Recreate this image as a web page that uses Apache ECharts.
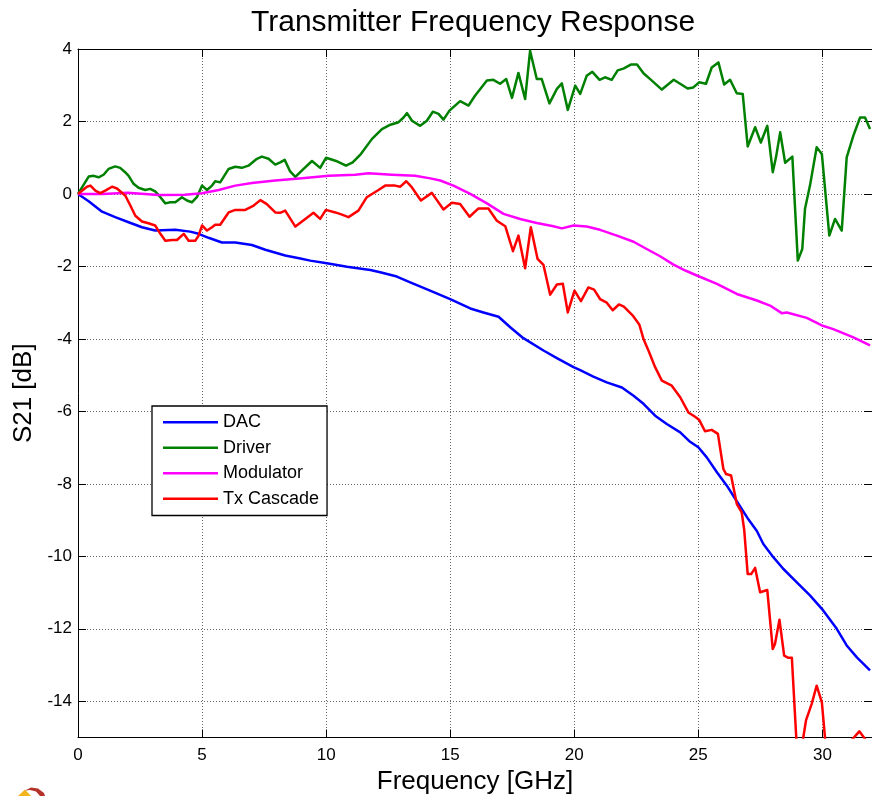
<!DOCTYPE html>
<html>
<head>
<meta charset="utf-8">
<title>Transmitter Frequency Response</title>
<script src="https://cdn.jsdelivr.net/npm/echarts@6/dist/echarts.min.js"></script>
<style>
  html, body { margin: 0; padding: 0; background: #fff; }
  #chart { width: 872px; height: 796px; }
</style>
</head>
<body>
<div id="chart"></div>
<script>
// Axis tick positions
const freqTicks = [0, 5, 10, 15, 20, 25, 30];
const s21Ticks = [-14, -12, -10, -8, -6, -4, -2, 0, 2, 4];

// DAC response (GHz, dB)
const dacFreq = [0, 0.43, 0.97, 1.5, 2.04, 2.58, 3.11, 3.92, 4.52, 4.86, 5.26, 5.8, 6.34, 7.01, 7.55, 8.35, 8.96, 9.36, 10.03, 10.84, 11.78, 12.18, 12.85, 13.39, 14.19, 15.0, 15.81, 16.34, 16.95, 17.42, 17.95, 18.76, 19.3, 19.97, 20.24, 20.77, 21.31, 21.92, 22.39, 22.79, 23.26, 23.73, 24.27, 24.67, 25.0, 25.34, 25.75, 26.15, 26.55, 26.98, 27.36, 27.62, 28.03, 28.43, 28.97, 29.5, 29.98, 30.58, 30.98, 31.39, 31.92];
const dacS21 = [0, -0.2, -0.49, -0.64, -0.78, -0.92, -1.01, -0.99, -1.04, -1.1, -1.21, -1.34, -1.34, -1.41, -1.54, -1.7, -1.78, -1.84, -1.91, -2.01, -2.1, -2.16, -2.28, -2.44, -2.67, -2.9, -3.16, -3.27, -3.39, -3.68, -3.98, -4.32, -4.53, -4.78, -4.86, -5.04, -5.2, -5.34, -5.57, -5.79, -6.12, -6.35, -6.58, -6.84, -6.99, -7.27, -7.68, -8.05, -8.48, -8.94, -9.3, -9.66, -10.03, -10.35, -10.72, -11.08, -11.45, -12.0, -12.46, -12.79, -13.15];

// Driver response (GHz, dB)
const driverFreq = [0, 0.43, 0.63, 0.83, 1.03, 1.23, 1.5, 1.7, 1.9, 2.04, 2.24, 2.44, 2.71, 2.91, 3.11, 3.32, 3.52, 3.72, 3.92, 4.19, 4.39, 4.59, 4.79, 5.0, 5.2, 5.4, 5.53, 5.73, 6.07, 6.34, 6.6, 6.87, 7.21, 7.41, 7.68, 7.95, 8.15, 8.33, 8.55, 8.76, 9.06, 9.43, 9.76, 10.0, 10.4, 10.8, 11.07, 11.4, 11.85, 12.25, 12.59, 12.92, 13.12, 13.26, 13.46, 13.79, 14.06, 14.3, 14.53, 14.73, 14.97, 15.4, 15.74, 16.0, 16.48, 16.74, 17.01, 17.26, 17.49, 17.75, 18.02, 18.22, 18.49, 18.69, 19.0, 19.3, 19.5, 19.74, 20.04, 20.24, 20.5, 20.73, 21.02, 21.24, 21.51, 21.75, 21.98, 22.28, 22.53, 22.79, 23.06, 23.53, 24.01, 24.57, 24.8, 25.03, 25.31, 25.54, 25.81, 26.04, 26.28, 26.55, 26.79, 26.99, 27.29, 27.52, 27.78, 28.0, 28.13, 28.3, 28.5, 28.79, 29.01, 29.19, 29.3, 29.5, 29.77, 29.98, 30.28, 30.51, 30.78, 30.98, 31.25, 31.52, 31.72, 31.92];
const driverS21 = [0, 0.48, 0.5, 0.46, 0.53, 0.69, 0.76, 0.72, 0.6, 0.5, 0.28, 0.17, 0.11, 0.14, 0.07, -0.09, -0.26, -0.23, -0.23, -0.09, -0.18, -0.23, -0.09, 0.23, 0.11, 0.23, 0.35, 0.32, 0.69, 0.75, 0.72, 0.78, 0.97, 1.03, 0.97, 0.81, 0.87, 0.94, 0.62, 0.47, 0.67, 0.91, 0.72, 1.0, 0.91, 0.78, 0.87, 1.1, 1.52, 1.79, 1.91, 1.98, 2.11, 2.23, 2.02, 1.88, 2.02, 2.27, 2.21, 2.05, 2.3, 2.56, 2.44, 2.71, 3.13, 3.15, 3.04, 3.17, 2.65, 3.34, 2.62, 3.95, 3.17, 3.17, 2.5, 2.9, 3.05, 2.32, 2.99, 2.76, 3.26, 3.37, 3.15, 3.22, 3.15, 3.41, 3.46, 3.57, 3.57, 3.33, 3.17, 2.88, 3.15, 2.91, 2.94, 3.08, 3.04, 3.49, 3.63, 3.02, 3.15, 2.78, 2.76, 1.31, 1.84, 1.42, 1.88, 0.6, 1.01, 1.7, 0.86, 1.03, -1.84, -1.52, -0.41, 0.23, 1.29, 1.1, -1.15, -0.69, -1.01, 1.01, 1.61, 2.11, 2.11, 1.79];

// Modulator response (GHz, dB)
const modFreq = [0, 1.0, 2.0, 3.25, 4.3, 5.0, 5.67, 6.34, 7.01, 7.95, 9.03, 10.1, 11.17, 11.71, 12.65, 13.59, 14.2, 14.6, 15.13, 15.81, 16.48, 17.15, 17.82, 18.49, 19.16, 19.5, 19.97, 20.5, 21.04, 21.72, 22.39, 22.92, 23.46, 24.0, 24.5, 24.94, 25.75, 26.55, 27.36, 27.89, 28.36, 28.57, 29.37, 29.98, 30.44, 31.25, 31.92];
const modS21 = [0, 0.0, 0.03, -0.03, -0.02, 0.02, 0.11, 0.23, 0.3, 0.37, 0.43, 0.5, 0.53, 0.57, 0.53, 0.5, 0.43, 0.37, 0.23, 0.0, -0.26, -0.55, -0.69, -0.8, -0.89, -0.95, -0.87, -0.9, -0.99, -1.15, -1.32, -1.52, -1.72, -1.95, -2.12, -2.25, -2.48, -2.76, -2.94, -3.08, -3.29, -3.27, -3.42, -3.63, -3.73, -3.96, -4.18];

// Full Tx cascade response (GHz, dB)
const txFreq = [0, 0.36, 0.5, 0.7, 0.9, 1.1, 1.37, 1.57, 1.91, 2.11, 2.31, 2.58, 2.84, 3.11, 3.32, 3.52, 3.79, 3.99, 4.26, 4.46, 4.73, 4.86, 5.0, 5.2, 5.4, 5.53, 5.73, 6.07, 6.34, 6.74, 7.08, 7.35, 7.61, 7.95, 8.15, 8.35, 8.76, 9.16, 9.49, 9.76, 9.99, 10.37, 10.64, 10.9, 11.3, 11.64, 12.11, 12.38, 12.78, 12.99, 13.23, 13.46, 13.82, 14.26, 14.73, 15.07, 15.4, 15.78, 16.14, 16.54, 16.88, 17.22, 17.53, 17.75, 18.02, 18.25, 18.52, 18.76, 19.03, 19.3, 19.54, 19.74, 20.01, 20.27, 20.57, 20.8, 21.04, 21.31, 21.55, 21.8, 22.0, 22.35, 22.62, 22.79, 22.99, 23.26, 23.53, 23.93, 24.27, 24.6, 24.87, 25.04, 25.27, 25.54, 25.79, 26.01, 26.12, 26.32, 26.55, 26.75, 26.85, 26.99, 27.13, 27.29, 27.49, 27.78, 28.0, 28.09, 28.27, 28.46, 28.63, 28.77, 29.02, 29.34, 29.57, 29.77, 29.98, 30.11, 30.35, 30.95, 31.49, 31.72, 31.92];
const txS21 = [0, 0.2, 0.23, 0.09, 0.02, 0.09, 0.2, 0.15, -0.05, -0.32, -0.6, -0.76, -0.81, -0.87, -1.1, -1.29, -1.27, -1.27, -1.1, -1.29, -1.29, -1.15, -0.87, -1.01, -0.92, -0.85, -0.85, -0.51, -0.44, -0.44, -0.32, -0.17, -0.28, -0.51, -0.52, -0.46, -0.9, -0.69, -0.52, -0.69, -0.44, -0.51, -0.57, -0.64, -0.46, -0.09, 0.11, 0.23, 0.23, 0.2, 0.35, 0.18, -0.18, 0.03, -0.43, -0.24, -0.28, -0.63, -0.4, -0.4, -0.74, -0.89, -1.58, -1.15, -2.05, -0.92, -1.79, -1.96, -2.78, -2.5, -2.48, -3.27, -2.67, -2.96, -2.58, -2.64, -2.9, -3.0, -3.21, -3.05, -3.11, -3.35, -3.6, -4.0, -4.32, -4.78, -5.15, -5.29, -5.61, -6.03, -6.15, -6.24, -6.55, -6.51, -6.62, -7.59, -7.73, -7.77, -8.55, -8.79, -9.27, -10.49, -10.49, -10.32, -10.99, -10.93, -12.56, -12.42, -11.75, -12.74, -12.8, -12.8, -15.9, -14.53, -14.07, -13.57, -14.03, -15.04, -16.6, -15.25, -14.83, -15.04, -15.4];

const zip = (xs, ys) => xs.map((x, i) => [x, ys[i]]);

const FONT = '"Liberation Sans", Arial, Helvetica, sans-serif';

const chart = echarts.init(document.getElementById('chart'), null, { renderer: 'canvas' });

const axisLineStyle = { color: '#000', width: 1 };
const gridLineStyle = { color: '#666', width: 1, type: [1, 2] };

const option = {
  animation: false,
  backgroundColor: '#fff',
  textStyle: { fontFamily: FONT },
  title: {
    text: 'Transmitter Frequency Response',
    left: 246,
    top: 3,
    textStyle: { fontFamily: FONT, fontSize: 30, fontWeight: 'normal', color: '#000' }
  },
  grid: { left: 78, right: 0, top: 49, bottom: 58.5, containLabel: false, outerBoundsMode: 'none' },
  legend: {
    orient: 'vertical',
    left: 152,
    top: 406,
    padding: [3.5, 8, 4, 11],
    icon: 'rect',
    itemWidth: 55,
    itemHeight: 2.5,
    itemGap: 0,
    backgroundColor: '#fff',
    borderColor: '#000',
    borderWidth: 1.3,
    borderRadius: 0,
    textStyle: { fontFamily: FONT, fontSize: 18, lineHeight: 25.5, color: '#000' },
    data: ['DAC', 'Driver', 'Modulator', 'Tx Cascade']
  },
  xAxis: [
    {
      type: 'value', min: 0, max: 32, position: 'bottom',
      name: 'Frequency [GHz]', nameLocation: 'middle', nameGap: 31, nameMoveOverlap: false,
      nameTextStyle: { fontFamily: FONT, fontSize: 26, color: '#000' },
      axisLine: { show: true, onZero: false, lineStyle: axisLineStyle },
      axisTick: { show: true, inside: true, length: 8, customValues: freqTicks, lineStyle: axisLineStyle },
      axisLabel: { show: true, customValues: freqTicks, margin: 9, fontFamily: FONT, fontSize: 17, color: '#000' },
      splitLine: { show: true, lineStyle: gridLineStyle }
    },
    {
      type: 'value', min: 0, max: 32, position: 'top',
      axisLine: { show: true, onZero: false, lineStyle: axisLineStyle },
      axisTick: { show: true, inside: true, length: 8, customValues: freqTicks, lineStyle: axisLineStyle },
      axisLabel: { show: false },
      splitLine: { show: false }
    }
  ],
  yAxis: [
    {
      type: 'value', min: -15, max: 4, position: 'left',
      name: 'S21 [dB]', nameLocation: 'middle', nameGap: 41, nameMoveOverlap: false,
      nameTextStyle: { fontFamily: FONT, fontSize: 26, color: '#000' },
      axisLine: { show: true, onZero: false, lineStyle: axisLineStyle },
      axisTick: { show: true, inside: true, length: 8, customValues: s21Ticks, lineStyle: axisLineStyle },
      axisLabel: { show: true, customValues: s21Ticks, margin: 6, fontFamily: FONT, fontSize: 17, color: '#000' },
      splitLine: { show: true, lineStyle: gridLineStyle }
    },
    {
      type: 'value', min: -15, max: 4, position: 'right',
      axisLine: { show: true, onZero: false, lineStyle: axisLineStyle },
      axisTick: { show: true, inside: true, length: 8, customValues: s21Ticks, lineStyle: axisLineStyle },
      axisLabel: { show: false },
      splitLine: { show: false }
    }
  ],
  series: [
    { name: 'DAC', type: 'line', data: zip(dacFreq, dacS21), color: '#0000ff' },
    { name: 'Driver', type: 'line', data: zip(driverFreq, driverS21), color: '#008000' },
    { name: 'Modulator', type: 'line', data: zip(modFreq, modS21), color: '#ff00ff' },
    { name: 'Tx Cascade', type: 'line', data: zip(txFreq, txS21), color: '#ff0000' }
  ].map(s => Object.assign(s, {
    xAxisIndex: 0, yAxisIndex: 0, symbol: 'none', clip: true, smooth: false,
    lineStyle: { width: 2.5, color: s.color, join: 'round' },
    emphasis: { disabled: true }
  })),
  graphic: [
    // small logo mark in the lower-left corner
    { type: 'polygon', shape: { points: [[18, 796], [25, 789.5], [31, 796]] }, style: { fill: '#f2b51c' } },
    { type: 'polygon', shape: { points: [[25, 790.5], [31, 787.5], [38, 788.5], [44, 793], [45, 796], [40, 796], [36, 791.5], [30, 790]] }, style: { fill: '#b5322a' } }
  ]
};

chart.setOption(option);
</script>
</body>
</html>
